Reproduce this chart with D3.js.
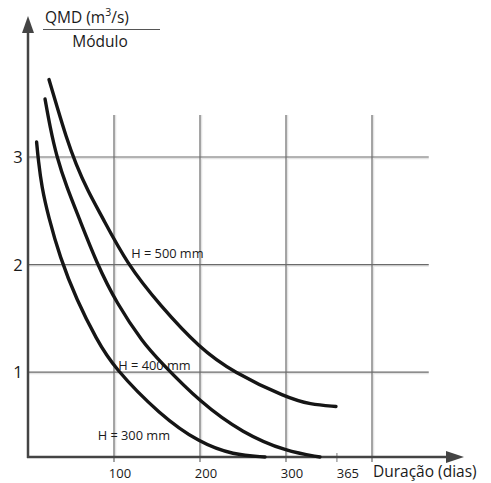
<!DOCTYPE html>
<html>
<head>
<meta charset="utf-8">
<script src="https://cdn.jsdelivr.net/npm/d3@7"></script>
<style>
  body { margin: 0; background: #fff; }
  text { font-family: "Open Sans", "Liberation Sans", sans-serif; fill: #1a1a1a; }
</style>
</head>
<body>
<svg id="chart" width="491" height="483"></svg>
<script>
// Curves: [duration (days), QMD / module]
const h300 = [[10, 3.14], [12, 2.97], [16, 2.72], [23.6, 2.45], [37, 2.07], [56.6, 1.67],
  [80, 1.30], [99, 1.05], [153.5, 0.60], [200, 0.34], [238.7, 0.23], [275.6, 0.21]];
const h400 = [[19.8, 3.54], [25.6, 3.28], [33.4, 3.0], [45, 2.72], [58.5, 2.45], [80, 2.01],
  [103, 1.64], [134, 1.27], [153.5, 1.10], [200, 0.72], [250, 0.43], [300.8, 0.26], [339.5, 0.21]];
const h500 = [[24.4, 3.72], [33.7, 3.47], [44.2, 3.19], [55.8, 2.93], [69.8, 2.68], [85.7, 2.45],
  [114.8, 2.01], [153.5, 1.62], [200, 1.22], [238.4, 1.0], [301.2, 0.76], [327.9, 0.70], [358.1, 0.68]];

const curveNames = ["H = 300 mm", "H = 400 mm", "H = 500 mm"];
// label anchor points (days, value) for each curve name
const curveLabelPos = [[81, 0.37], [105, 1.02], [120, 2.06]];

const xGrid = [100, 200, 300, 400];
const xTickLabels = [100, 200, 300, 365];
const yGrid = [1, 2, 3];

const svg = d3.select("#chart");

// Scales
const x = d3.scaleLinear().domain([0, 400]).range([28, 372]);
const y = d3.scaleLinear().domain([0.21, 3]).range([457, 157]);

const gridColor = "#6a6a6a";
const shadowColor = "#e4e4e4";
const axisColor = "#444";

// Grid shadows then grid lines
const grid = svg.append("g");
xGrid.forEach(d => {
  grid.append("line")
    .attr("x1", x(d) + 1.5).attr("x2", x(d) + 1.5)
    .attr("y1", y(3.39)).attr("y2", y(0.21))
    .attr("stroke", shadowColor).attr("stroke-width", 1.5);
});
yGrid.forEach(d => {
  grid.append("line")
    .attr("x1", x(0)).attr("x2", x(466))
    .attr("y1", y(d) + 1.5).attr("y2", y(d) + 1.5)
    .attr("stroke", shadowColor).attr("stroke-width", 1.5);
});
xGrid.forEach(d => {
  grid.append("line")
    .attr("x1", x(d)).attr("x2", x(d))
    .attr("y1", y(3.39)).attr("y2", y(0.21) + 5)
    .attr("stroke", gridColor).attr("stroke-width", 1.2);
});
yGrid.forEach(d => {
  grid.append("line")
    .attr("x1", x(0)).attr("x2", x(466))
    .attr("y1", y(d)).attr("y2", y(d))
    .attr("stroke", gridColor).attr("stroke-width", 1.2);
});
// small tick at 365
grid.append("line")
  .attr("x1", x(365) - 5).attr("x2", x(365) - 5)
  .attr("y1", y(0.21) - 4).attr("y2", y(0.21) + 5)
  .attr("stroke", "#999").attr("stroke-width", 1.3);

// Axes with arrow heads
const axes = svg.append("g");
axes.append("line")
  .attr("x1", x(0)).attr("x2", x(0))
  .attr("y1", y(0.21) + 1).attr("y2", 30)
  .attr("stroke", axisColor).attr("stroke-width", 2.5);
axes.append("path")
  .attr("d", `M${x(0)},16 L${x(0) - 6},33 L${x(0) + 6},33 Z`)
  .attr("fill", axisColor);
axes.append("line")
  .attr("x1", x(0) - 1).attr("x2", 450)
  .attr("y1", y(0.21)).attr("y2", y(0.21))
  .attr("stroke", axisColor).attr("stroke-width", 2.5);
axes.append("path")
  .attr("d", `M464,${y(0.21)} L446,${y(0.21) - 6} L446,${y(0.21) + 6} Z`)
  .attr("fill", axisColor);

// Tick labels
svg.append("g").selectAll("text")
  .data(xTickLabels)
  .join("text")
  .attr("x", d => x(d) + 6)
  .attr("y", y(0.21) + 21)
  .attr("text-anchor", "middle")
  .attr("font-size", 13)
  .text(d => d);

svg.append("g").selectAll("text")
  .data(yGrid)
  .join("text")
  .attr("x", 18)
  .attr("y", d => y(d) + 6)
  .attr("text-anchor", "middle")
  .attr("font-size", 16.5)
  .text(d => d);

svg.append("text")
  .attr("x", 373).attr("y", 477)
  .attr("font-size", 15.5)
  .text("Duração (dias)");

// Y title as a fraction
const title = svg.append("text")
  .attr("x", 45).attr("y", 23)
  .attr("font-size", 15.5);
title.append("tspan").text("QMD (m");
title.append("tspan").attr("font-size", 10.5).attr("dy", -7).text("3");
title.append("tspan").attr("dy", 7).text("/s)");
svg.append("line")
  .attr("x1", 43).attr("x2", 160)
  .attr("y1", 29.5).attr("y2", 29.5)
  .attr("stroke", "#555").attr("stroke-width", 1.2);
svg.append("text")
  .attr("x", 100).attr("y", 47)
  .attr("text-anchor", "middle")
  .attr("font-size", 15.5)
  .text("Módulo");

// Curves
const line = d3.line()
  .x(d => x(d[0]))
  .y(d => y(d[1]))
  .curve(d3.curveBasis);

svg.append("g").selectAll("path")
  .data([h300, h400, h500])
  .join("path")
  .attr("d", line)
  .attr("fill", "none")
  .attr("stroke", "#151515")
  .attr("stroke-width", 3.4)
  .attr("stroke-linecap", "round");

// Curve labels
svg.append("g").selectAll("text")
  .data(curveNames)
  .join("text")
  .attr("x", (d, i) => x(curveLabelPos[i][0]))
  .attr("y", (d, i) => y(curveLabelPos[i][1]))
  .attr("font-size", 12.8)
  .text(d => d);
</script>
</body>
</html>
